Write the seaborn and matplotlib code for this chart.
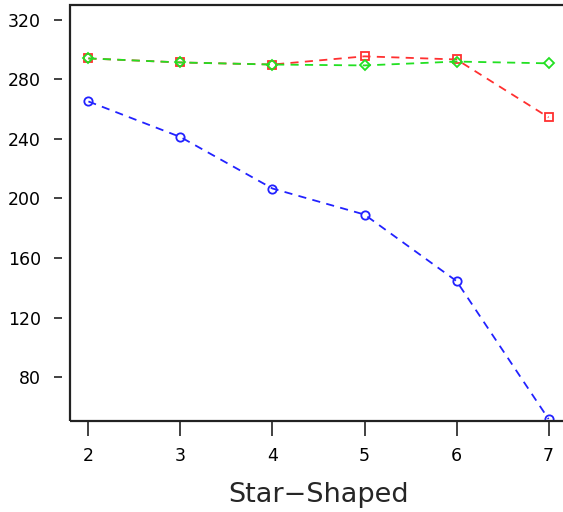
import matplotlib
matplotlib.use("Agg")
import matplotlib.pyplot as plt
import seaborn as sns
import pandas as pd
from matplotlib.patches import Rectangle

sns.set_style("white")
plt.rcParams['font.family'] = ['DejaVu Sans']

x = [2, 3, 4, 5, 6, 7]
blue_vals = [265.2, 241.3, 206.7, 189.2, 144.5, 51.8]
red_vals = [294.1, 291.4, 290.0, 295.5, 293.4, 254.5]
green_vals = [294.1, 291.4, 290.0, 289.4, 292.0, 290.8]
y_ticks = [80, 120, 160, 200, 240, 280, 320]
x_label = "Star\u2212Shaped"

fig = plt.figure(figsize=(5.63, 5.12), dpi=100)
ax = fig.add_axes([70/563, 91/512, 497/563, 416/512])

series = [
    (blue_vals, "#2222ff", "o"),
    (red_vals, "#ff3030", "s"),
    (green_vals, "#22e022", "D"),
]
for vals, col, mk in series:
    df = pd.DataFrame({"x": x, "y": vals})
    sns.lineplot(data=df, x="x", y="y", ax=ax, color=col, marker=mk,
                 markersize=6.0 if mk != "D" else 5.6, markerfacecolor="none",
                 markeredgecolor=col, markeredgewidth=1.3,
                 linestyle=(0, (4.5, 3.5)), linewidth=1.3)

ax.set_xlim(1.8, 7.2)
ax.set_ylim(50.5, 330)
ax.set_xticks(x)
ax.set_yticks(y_ticks)
ax.set_xticklabels([str(v) for v in x])
ax.set_yticklabels([str(v) for v in y_ticks])
ax.set_xlabel(x_label, fontsize=19.5, labelpad=12)
ax.set_ylabel("")

ax.spines["left"].set_position(("outward", 6))
ax.spines["bottom"].set_position(("outward", 1))
for s in ["top", "right", "left", "bottom"]:
    ax.spines[s].set_visible(False)
ax.tick_params(axis="both", direction="out", bottom=True, left=True,
               width=1.3, color="#333333", labelcolor="#000000", labelsize=12.5)
ax.tick_params(axis="y", length=6, pad=9)
ax.tick_params(axis="x", length=10, pad=8)

ax.add_patch(Rectangle((0, 0), 1, 1, transform=ax.transAxes, fill=False,
                       edgecolor="#222222", linewidth=1.6, clip_on=False, zorder=5))

fig.savefig("out.png", dpi=100)
